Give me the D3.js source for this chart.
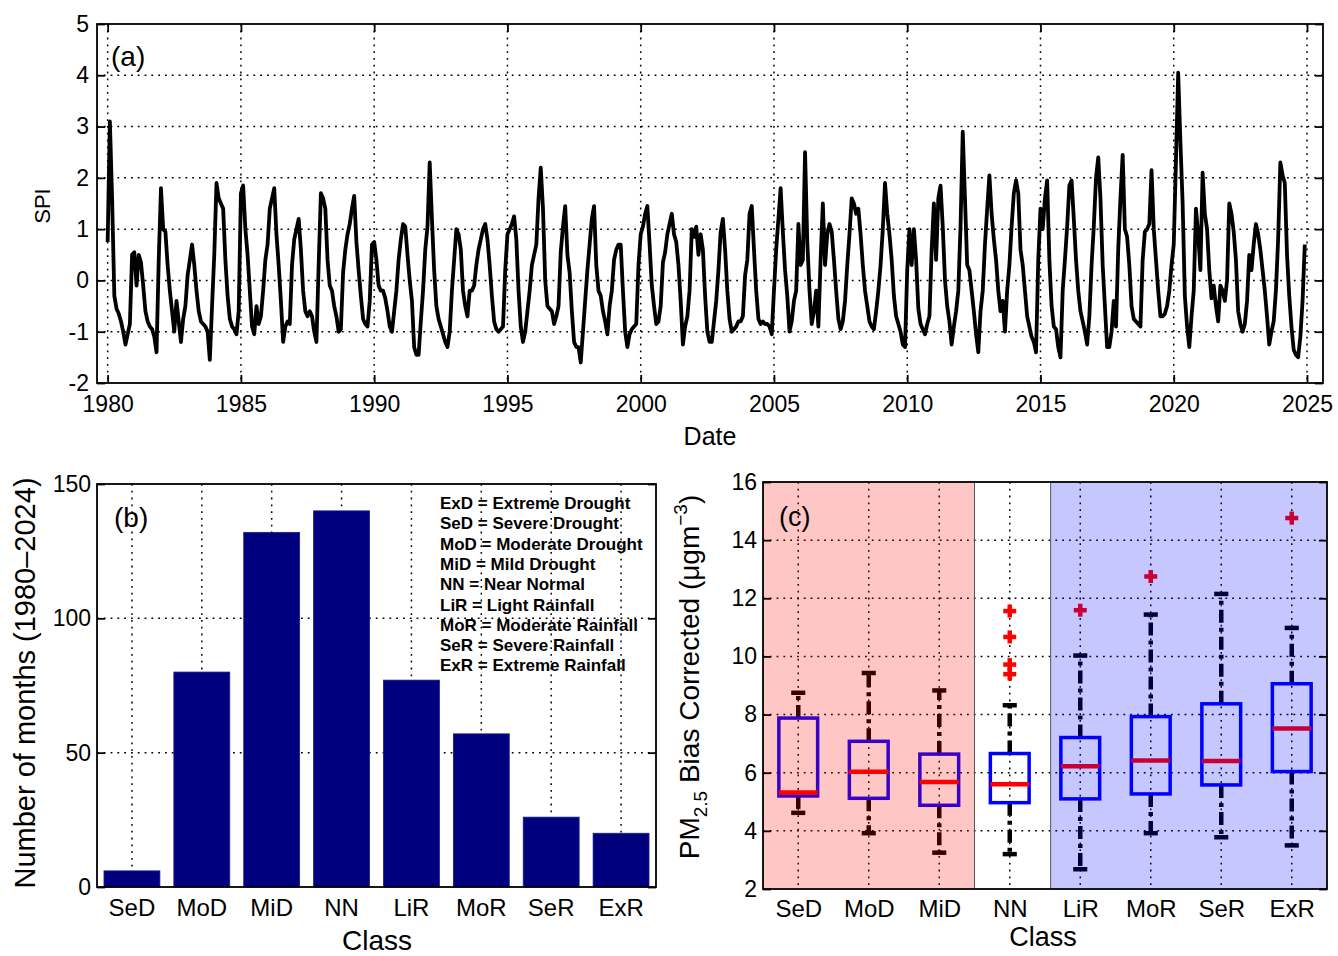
<!DOCTYPE html>
<html>
<head>
<meta charset="utf-8">
<script src="https://cdn.jsdelivr.net/npm/d3@7"></script>
<style>
  body { margin: 0; background: #fff; }
  text { font-family: "Liberation Sans", Arial, Helvetica, sans-serif; fill: #000; }
</style>
</head>
<body>
<svg id="fig" width="1338" height="956"></svg>
<script>
// ---------- Panel (a): monthly SPI, Jan 1980 – Dec 2024 (one row per year) ----------
const spiStartYear = 1980;
const spiMonthly = [
  0.75, 3.1, 1.6, -0.3, -0.55, -0.65, -0.8, -1.0, -1.25, -1.05, -0.85, 0.5,     // 1980
  0.55, -0.1, 0.5, 0.35, -0.1, -0.6, -0.8, -0.9, -0.95, -1.1, -1.4, 0.4,        // 1981
  1.8, 1.0, 0.95, 0.3, -0.2, -0.6, -1.0, -0.4, -0.8, -1.2, -0.75, -0.5,         // 1982
  0.1, 0.4, 0.7, 0.3, -0.2, -0.6, -0.8, -0.85, -0.9, -1.0, -1.55, -0.5,         // 1983
  0.5, 1.9, 1.6, 1.5, 1.4, 0.4, -0.3, -0.75, -0.9, -0.95, -1.05, -0.6,          // 1984
  1.7, 1.85, 1.0, 0.5, -0.2, -0.9, -1.05, -0.5, -0.85, -0.7, -0.2, 0.4,         // 1985
  0.7, 1.4, 1.6, 1.8, 0.9, 0.3, -0.4, -1.2, -0.9, -0.8, -0.85, 0.3,             // 1986
  0.8, 1.0, 1.2, 0.6, -0.2, -0.6, -0.7, -0.6, -0.7, -1.0, -1.2, 0.3,            // 1987
  1.7, 1.6, 1.4, 0.4, -0.1, -0.2, -0.5, -0.7, -1.0, -0.95, 0.15, 0.6,           // 1988
  0.9, 1.1, 1.4, 1.65, 0.75, 0.2, -0.3, -0.75, -0.85, -0.9, -0.4, 0.7,          // 1989
  0.75, 0.4, -0.1, -0.2, -0.2, -0.35, -0.6, -0.9, -1.0, -0.6, -0.2, 0.4,        // 1990
  0.8, 1.1, 1.05, 0.5, 0.0, -0.4, -1.3, -1.45, -1.45, -0.8, -0.2, 0.6,          // 1991
  1.05, 2.3, 1.2, 0.2, -0.5, -0.75, -0.9, -1.05, -1.2, -1.3, -1.0, -0.2,        // 1992
  0.4, 1.0, 0.9, 0.6, -0.2, -0.5, -0.7, -0.2, -0.2, -0.1, 0.3, 0.6,             // 1993
  0.8, 1.0, 1.1, 0.8, 0.3, -0.3, -0.8, -0.95, -1.0, -0.95, -0.9, 0.2,           // 1994
  0.9, 1.0, 1.1, 1.25, 0.8, -0.2, -0.9, -1.2, -1.0, -0.6, -0.2, 0.3,            // 1995
  0.5, 0.7, 1.6, 2.2, 1.4, 0.0, -0.5, -0.55, -0.6, -0.85, -0.7, -0.5,           // 1996
  0.55, 1.05, 1.45, 0.5, 0.15, -0.6, -1.2, -1.3, -1.3, -1.6, -1.0, -0.4,        // 1997
  0.2, 0.7, 1.2, 1.45, 0.3, -0.2, -0.3, -0.6, -0.8, -1.05, -0.5, -0.2,          // 1998
  0.4, 0.6, 0.7, 0.7, -0.2, -1.0, -1.3, -1.05, -0.95, -0.9, -0.85, 0.3,         // 1999
  0.9, 1.05, 1.3, 1.45, 0.7, -0.1, -0.5, -0.85, -0.8, -0.5, 0.35, 0.55,         // 2000
  0.9, 1.1, 1.3, 0.9, 0.75, 0.3, -0.4, -1.25, -0.9, -0.7, -0.2, 1.0,            // 2001
  0.85, 1.05, 0.5, 0.9, 0.6, -0.3, -1.0, -1.2, -1.2, -0.8, -0.4, 0.2,           // 2002
  0.95, 1.2, 0.6, -0.2, -0.75, -1.0, -0.95, -0.9, -0.8, -0.8, -0.7, 0.1,        // 2003
  0.4, 1.3, 1.45, 0.6, -0.2, -0.75, -0.85, -0.8, -0.85, -0.85, -0.9, -1.05,     // 2004
  -0.2, 0.6, 1.2, 1.8, 0.95, 0.2, -0.3, -1.0, -0.8, -0.4, -0.2, 1.1,            // 2005
  0.3, 0.4, 2.5, 0.75, -0.2, -0.85, -0.6, -0.2, -0.9, 0.4, 1.5, 0.3,            // 2006
  0.9, 1.1, 0.95, 0.4, -0.2, -0.75, -0.95, -0.8, -0.4, 0.3, 0.9, 1.6,           // 2007
  1.5, 1.3, 1.4, 0.9, 0.3, -0.2, -0.5, -0.8, -0.9, -0.95, -0.6, -0.2,           // 2008
  0.3, 1.0, 1.9, 1.3, 0.9, 0.4, -0.3, -0.7, -0.85, -1.0, -1.25, -1.3,           // 2009
  0.2, 1.0, 0.3, 1.0, 0.4, -0.55, -0.85, -0.95, -1.05, -0.85, -0.7, 0.6,        // 2010
  1.5, 0.4, 1.6, 1.85, 1.05, 0.0, -0.5, -0.8, -1.25, -0.9, -0.6, -0.2,          // 2011
  1.05, 2.9, 1.6, 0.3, 0.2, -0.2, -0.6, -1.05, -1.4, -0.6, -0.2, 0.7,           // 2012
  1.4, 2.05, 1.3, 0.8, 0.4, -0.2, -0.6, -0.4, -1.0, -0.2, 0.3, 1.05,            // 2013
  1.7, 1.95, 1.7, 0.6, 0.3, -0.2, -0.7, -0.9, -1.1, -1.2, -1.4, 0.4,            // 2014
  1.4, 1.0, 1.6, 1.95, 0.4, -0.5, -0.9, -0.95, -1.3, -1.5, -0.2, 0.4,           // 2015
  1.05, 1.85, 1.95, 1.2, 0.4, -0.2, -0.6, -0.8, -1.0, -1.25, -0.7, 0.3,         // 2016
  1.05, 2.0, 2.4, 1.6, 0.3, -0.5, -1.3, -1.3, -1.0, -0.4, -0.9, 0.6,            // 2017
  1.6, 2.45, 1.0, 0.85, 0.3, -0.5, -0.75, -0.8, -0.85, -0.9, 0.4, 0.95,         // 2018
  1.0, 1.1, 2.15, 1.0, 0.4, -0.2, -0.7, -0.7, -0.65, -0.5, -0.2, 0.3,           // 2019
  0.7, 2.35, 4.05, 2.7, 1.5, -0.3, -0.9, -1.3, -0.7, -0.2, 1.4, 0.9,            // 2020
  0.2, 2.1, 1.3, 1.0, 0.2, -0.35, -0.1, -0.5, -0.8, -0.1, -0.2, -0.4,           // 2021
  0.0, 1.5, 1.3, 0.95, 0.4, -0.6, -0.85, -1.0, -0.85, -0.4, 0.5, 0.2,           // 2022
  0.7, 1.1, 0.9, 0.6, 0.2, -0.2, -0.7, -1.25, -1.0, -0.8, -0.2, 0.8,            // 2023
  2.3, 2.05, 1.9, 0.5, -0.3, -0.9, -1.35, -1.45, -1.5, -1.1, -0.4, 0.7          // 2024
];
const yearTicks = [1980, 1985, 1990, 1995, 2000, 2005, 2010, 2015, 2020, 2025];
const spiTicks = [-2, -1, 0, 1, 2, 3, 4, 5];

// ---------- Panel (b): months per SPI class ----------
const classes = ["SeD", "MoD", "MiD", "NN", "LiR", "MoR", "SeR", "ExR"];
const monthCounts = [6, 80, 132, 140, 77, 57, 26, 20];
const countTicks = [0, 50, 100, 150];
const classLegend = [
  "ExD = Extreme Drought",
  "SeD = Severe Drought",
  "MoD = Moderate Drought",
  "MiD = Mild Drought",
  "NN = Near Normal",
  "LiR = Light Rainfall",
  "MoR = Moderate Rainfall",
  "SeR = Severe Rainfall",
  "ExR = Extreme Rainfall"
];

// ---------- Panel (c): PM2.5 distribution per class ----------
const whiskerLow  = [4.62, 3.92, 3.25, 3.2, 2.68, 3.92, 3.78, 3.5];
const quartile1   = [5.2, 5.12, 4.88, 4.97, 5.1, 5.27, 5.58, 6.04];
const medians     = [5.32, 6.03, 5.68, 5.6, 6.22, 6.42, 6.4, 7.52];
const quartile3   = [7.88, 7.08, 6.64, 6.66, 7.21, 7.93, 8.37, 9.06];
const whiskerHigh = [8.75, 9.43, 8.83, 8.32, 10.03, 11.44, 12.15, 10.98];
const outliers    = [[], [], [], [11.56, 10.67, 9.72, 9.39], [11.59], [12.75], [], [14.76]];
const pmTicks = [2, 4, 6, 8, 10, 12, 14, 16];

// ---------- helpers ----------
const svg = d3.select("#fig");
svg.append("rect").attr("width", 1338).attr("height", 956).attr("fill", "#fff");

function dottedGrid(g, lines) {
  g.selectAll(null).data(lines).join("line")
    .attr("x1", d => d[0]).attr("y1", d => d[1])
    .attr("x2", d => d[2]).attr("y2", d => d[3])
    .attr("stroke", "#000").attr("stroke-width", 1.5)
    .attr("stroke-dasharray", "1.8,5");
}

function frame(g, x0, x1, y0, y1) {
  g.append("rect").attr("x", x0).attr("y", y0)
    .attr("width", x1 - x0).attr("height", y1 - y0)
    .attr("fill", "none").attr("stroke", "#000").attr("stroke-width", 1.8);
}

function styleAxis(sel, size) {
  sel.select(".domain").remove();
  sel.selectAll(".tick line").attr("stroke", "#000").attr("stroke-width", 1.8);
  sel.selectAll(".tick text").attr("font-size", size).attr("fill", "#000");
}

const plain = d => String(d);

// ================= Panel (a) =================
{
  const L = 97, R = 1323, T = 24, B = 383;
  const x = d3.scaleLinear().domain([1979.6, 2025.6]).range([L, R]);
  const y = d3.scaleLinear().domain([-2, 5]).range([B, T]);
  const g = svg.append("g");

  const grid = [];
  yearTicks.forEach(t => grid.push([x(t), T, x(t), B]));
  spiTicks.forEach(t => { if (t > -2 && t < 5) grid.push([L, y(t), R, y(t)]); });
  dottedGrid(g, grid);

  const line = d3.line()
    .x((d, i) => x(spiStartYear + i / 12))
    .y(d => y(d));
  g.append("path").datum(spiMonthly).attr("d", line)
    .attr("fill", "none").attr("stroke", "#000")
    .attr("stroke-width", 3.8).attr("stroke-linejoin", "round");

  const ax = g.append("g").attr("transform", `translate(0,${B})`)
    .call(d3.axisBottom(x).tickValues(yearTicks).tickFormat(plain).tickSize(-8).tickPadding(13));
  styleAxis(ax, 23);
  const axT = g.append("g").attr("transform", `translate(0,${T})`)
    .call(d3.axisTop(x).tickValues(yearTicks).tickFormat("").tickSize(-8));
  styleAxis(axT, 23);
  const ay = g.append("g").attr("transform", `translate(${L},0)`)
    .call(d3.axisLeft(y).tickValues(spiTicks).tickFormat(plain).tickSize(-8).tickPadding(8));
  styleAxis(ay, 23);
  const ayR = g.append("g").attr("transform", `translate(${R},0)`)
    .call(d3.axisRight(y).tickValues(spiTicks).tickFormat("").tickSize(-8));
  styleAxis(ayR, 23);
  frame(g, L, R, T, B);

  g.append("text").attr("x", 111).attr("y", 66).attr("font-size", 28).text("(a)");
  g.append("text").attr("x", 710).attr("y", 445).attr("text-anchor", "middle")
    .attr("font-size", 25).text("Date");
  g.append("text").attr("transform", "translate(50,206) rotate(-90)")
    .attr("text-anchor", "middle").attr("font-size", 22).text("SPI");
}

// ================= Panel (b) =================
{
  const L = 97, R = 656, T = 484, B = 887;
  const x = d3.scaleBand().domain(classes).range([L, R]).paddingInner(0.2).paddingOuter(0.1);
  const y = d3.scaleLinear().domain([0, 150]).range([B, T]);
  const g = svg.append("g");

  const grid = [];
  classes.forEach(c => grid.push([x(c) + x.bandwidth() / 2, T, x(c) + x.bandwidth() / 2, B]));
  countTicks.forEach(t => { if (t > 0 && t < 150) grid.push([L, y(t), R, y(t)]); });
  dottedGrid(g, grid);

  g.selectAll(null).data(classes).join("rect")
    .attr("x", d => x(d)).attr("width", x.bandwidth())
    .attr("y", (d, i) => y(monthCounts[i]))
    .attr("height", (d, i) => B - y(monthCounts[i]))
    .attr("fill", "#00007f").attr("stroke", "#1a1a8c").attr("stroke-width", 0.8);

  const ax = g.append("g").attr("transform", `translate(0,${B})`)
    .call(d3.axisBottom(x).tickSize(0).tickPadding(12));
  styleAxis(ax, 24);
  const ay = g.append("g").attr("transform", `translate(${L},0)`)
    .call(d3.axisLeft(y).tickValues(countTicks).tickFormat(plain).tickSize(-8).tickPadding(6));
  styleAxis(ay, 23);
  const ayR = g.append("g").attr("transform", `translate(${R},0)`)
    .call(d3.axisRight(y).tickValues(countTicks).tickFormat("").tickSize(-8));
  styleAxis(ayR, 23);
  frame(g, L, R, T, B);

  g.append("text").attr("x", 114).attr("y", 527).attr("font-size", 28).text("(b)");
  g.selectAll(null).data(classLegend).join("text")
    .attr("x", 440).attr("y", (d, i) => 509 + i * 20.3)
    .attr("font-size", 17).attr("font-weight", "bold").text(d => d);

  g.append("text").attr("x", 377).attr("y", 950).attr("text-anchor", "middle")
    .attr("font-size", 28).text("Class");
  g.append("text").attr("transform", "translate(35,683) rotate(-90)")
    .attr("text-anchor", "middle").attr("font-size", 29).text("Number of months (1980\u20132024)");
}

// ================= Panel (c) =================
{
  const L = 763, R = 1327, T = 482, B = 889;
  const x = d3.scaleLinear().domain([0.5, 8.5]).range([L, R]);
  const y = d3.scaleLinear().domain([2, 16]).range([B, T]);
  const g = svg.append("g");
  const boxHalf = 0.275, capHalf = 0.1;

  const grid = [];
  classes.forEach((c, i) => grid.push([x(i + 1), T, x(i + 1), B]));
  pmTicks.forEach(t => { if (t > 2 && t < 16) grid.push([L, y(t), R, y(t)]); });
  dottedGrid(g, grid);

  const boxes = classes.map((c, i) => ({
    i: i + 1, lo: whiskerLow[i], q1: quartile1[i], med: medians[i],
    q3: quartile3[i], hi: whiskerHigh[i], out: outliers[i]
  }));

  // whiskers
  g.selectAll(null).data(boxes).join("line")
    .attr("x1", d => x(d.i)).attr("x2", d => x(d.i))
    .attr("y1", d => y(d.q3)).attr("y2", d => y(d.hi))
    .attr("stroke", "#000").attr("stroke-width", 4.5).attr("stroke-dasharray", "13,5,4,5");
  g.selectAll(null).data(boxes).join("line")
    .attr("x1", d => x(d.i)).attr("x2", d => x(d.i))
    .attr("y1", d => y(d.q1)).attr("y2", d => y(d.lo))
    .attr("stroke", "#000").attr("stroke-width", 4.5).attr("stroke-dasharray", "13,5,4,5");
  // caps
  ["lo", "hi"].forEach(k => {
    g.selectAll(null).data(boxes).join("line")
      .attr("x1", d => x(d.i - capHalf)).attr("x2", d => x(d.i + capHalf))
      .attr("y1", d => y(d[k])).attr("y2", d => y(d[k]))
      .attr("stroke", "#000").attr("stroke-width", 4.5);
  });
  // boxes
  g.selectAll(null).data(boxes).join("rect")
    .attr("x", d => x(d.i - boxHalf)).attr("width", d => x(d.i + boxHalf) - x(d.i - boxHalf))
    .attr("y", d => y(d.q3)).attr("height", d => y(d.q1) - y(d.q3))
    .attr("fill", "none").attr("stroke", "#0000ff").attr("stroke-width", 3.5);
  // medians
  g.selectAll(null).data(boxes).join("line")
    .attr("x1", d => x(d.i - boxHalf)).attr("x2", d => x(d.i + boxHalf))
    .attr("y1", d => y(d.med)).attr("y2", d => y(d.med))
    .attr("stroke", "#ff0000").attr("stroke-width", 4.5);
  // outliers
  const outPts = boxes.flatMap(d => d.out.map(v => ({ i: d.i, v })));
  const plus = g.selectAll(null).data(outPts).join("g")
    .attr("transform", d => `translate(${x(d.i)},${y(d.v)})`);
  plus.append("line").attr("x1", -6.5).attr("x2", 6.5).attr("stroke", "#ff0000").attr("stroke-width", 4.5);
  plus.append("line").attr("y1", -6.5).attr("y2", 6.5).attr("stroke", "#ff0000").attr("stroke-width", 4.5);

  // drought / rainfall shading
  const droughtEdge = 3.5, rainEdge = 4.58;
  g.append("rect").attr("x", L).attr("y", T).attr("width", x(droughtEdge) - L).attr("height", B - T)
    .attr("fill", "#ff0000").attr("fill-opacity", 0.225);
  g.append("rect").attr("x", x(rainEdge)).attr("y", T).attr("width", R - x(rainEdge)).attr("height", B - T)
    .attr("fill", "#0000ff").attr("fill-opacity", 0.22);
  [droughtEdge, rainEdge].forEach(e => {
    g.append("line").attr("x1", x(e)).attr("x2", x(e)).attr("y1", T).attr("y2", B)
      .attr("stroke", "#555").attr("stroke-width", 1);
  });

  const ax = g.append("g").attr("transform", `translate(0,${B})`)
    .call(d3.axisBottom(x).tickValues(d3.range(1, 9)).tickFormat(d => classes[d - 1]).tickSize(0).tickPadding(11));
  styleAxis(ax, 24);
  const ay = g.append("g").attr("transform", `translate(${L},0)`)
    .call(d3.axisLeft(y).tickValues(pmTicks).tickFormat(plain).tickSize(-8).tickPadding(6));
  styleAxis(ay, 23);
  const ayR = g.append("g").attr("transform", `translate(${R},0)`)
    .call(d3.axisRight(y).tickValues(pmTicks).tickFormat("").tickSize(-8));
  styleAxis(ayR, 23);
  frame(g, L, R, T, B);

  g.append("text").attr("x", 779).attr("y", 526).attr("font-size", 27).text("(c)");
  g.append("text").attr("x", 1043).attr("y", 946).attr("text-anchor", "middle")
    .attr("font-size", 27).text("Class");

  const yl = g.append("text").attr("transform", "translate(699,677) rotate(-90)")
    .attr("text-anchor", "middle").attr("font-size", 28);
  yl.append("tspan").text("PM");
  yl.append("tspan").attr("font-size", 19).attr("dy", 8).text("2.5");
  yl.append("tspan").attr("dy", -8).text(" Bias Corrected (\u03bcgm");
  yl.append("tspan").attr("font-size", 19).attr("dy", -12).text("\u22123");
  yl.append("tspan").attr("dy", 12).text(")");
}
</script>
</body>
</html>
